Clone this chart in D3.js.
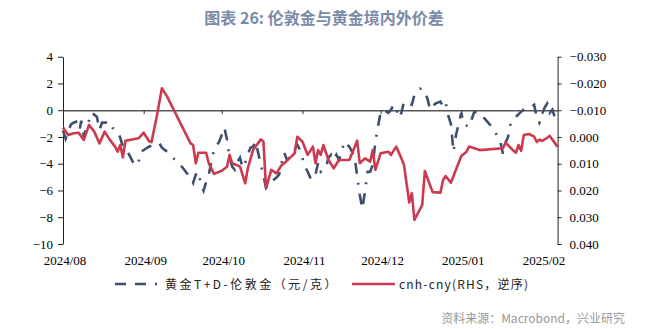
<!DOCTYPE html>
<html><head><meta charset="utf-8">
<script src="https://cdn.jsdelivr.net/npm/d3@7"></script>
<style>body{margin:0;background:#fff;} svg{display:block;}</style>
</head><body><svg id="c" width="656" height="329"></svg>
<script>
const titleText = "图表 26: 伦敦金与黄金境内外价差";
const sourceText = "资料来源：Macrobond，兴业研究";
const legendNames = ["黄金T+D-伦敦金（元/克）", "cnh-cny(RHS，逆序)"];
const leftTicks = [4, 2, 0, -2, -4, -6, -8, -10];
const rightTicks = [-0.03, -0.02, -0.01, 0, 0.01, 0.02, 0.03, 0.04];
const monthTicks = ["2024-08-01","2024-09-01","2024-10-01","2024-11-01","2024-12-01","2025-01-01","2025-02-01"];
const monthLabels = ["2024/08","2024/09","2024/10","2024/11","2024/12","2025/01","2025/02"];

const goldDates = ["2024-08-01","2024-08-02","2024-08-04","2024-08-05","2024-08-06","2024-08-07","2024-08-08","2024-08-09","2024-08-10","2024-08-12","2024-08-14","2024-08-15","2024-08-16","2024-08-17","2024-08-19","2024-08-20","2024-08-22","2024-08-23","2024-08-24","2024-08-26","2024-08-27","2024-08-28","2024-08-29","2024-08-30","2024-08-31",
"2024-09-03","2024-09-05","2024-09-07","2024-09-08","2024-09-10","2024-09-13","2024-09-16","2024-09-18","2024-09-19","2024-09-20","2024-09-21","2024-09-22","2024-09-23","2024-09-24","2024-09-25","2024-09-26","2024-09-27","2024-09-28","2024-09-30",
"2024-10-01","2024-10-02","2024-10-03","2024-10-04","2024-10-05","2024-10-06","2024-10-07","2024-10-08","2024-10-09","2024-10-10","2024-10-11","2024-10-12","2024-10-13","2024-10-14","2024-10-16","2024-10-18","2024-10-19","2024-10-20","2024-10-22","2024-10-23","2024-10-24","2024-10-25","2024-10-26","2024-10-27","2024-10-29","2024-10-30","2024-10-31",
"2024-11-02","2024-11-03","2024-11-04","2024-11-05","2024-11-06","2024-11-07","2024-11-08","2024-11-10","2024-11-11","2024-11-12","2024-11-13","2024-11-14","2024-11-15","2024-11-16","2024-11-17","2024-11-19","2024-11-20","2024-11-21","2024-11-22","2024-11-23","2024-11-24","2024-11-25","2024-11-26","2024-11-27","2024-11-28","2024-11-29","2024-11-30",
"2024-12-01","2024-12-02","2024-12-04","2024-12-05","2024-12-06","2024-12-07","2024-12-08","2024-12-09","2024-12-10","2024-12-13","2024-12-14","2024-12-16","2024-12-17","2024-12-18","2024-12-19","2024-12-20","2024-12-22","2024-12-24","2024-12-25","2024-12-26","2024-12-27","2024-12-28","2024-12-29","2024-12-30","2024-12-31",
"2025-01-01","2025-01-02","2025-01-04","2025-01-06","2025-01-08","2025-01-11","2025-01-13","2025-01-15","2025-01-16","2025-01-17","2025-01-18","2025-01-19","2025-01-20","2025-01-22","2025-01-24","2025-01-25","2025-01-28","2025-01-29","2025-01-30","2025-01-31",
"2025-02-01","2025-02-02","2025-02-03","2025-02-04","2025-02-05","2025-02-06"];
const goldValues = [-1.53,-2.13,-1.08,-0.93,-0.86,-1.91,-0.78,-1.98,-1.31,-0.19,-0.49,-1.46,-0.93,-0.93,-0.86,-1.31,-1.61,-2.06,-2.73,-3.18,-3.55,-3.92,-4.15,-3.85,-3.10,
-2.73,-2.58,-2.47,-2.80,-3.10,-3.70,-4.30,-4.82,-4.97,-5.42,-4.82,-4.60,-5.57,-6.02,-5.34,-4.82,-3.85,-2.95,-2.35,
-1.83,-1.31,-2.20,-3.55,-4.22,-4.45,-3.85,-3.55,-4.30,-3.92,-3.33,-2.80,-2.73,-2.35,-4.07,-5.79,-5.57,-5.34,-5.04,-4.82,-3.92,-3.18,-3.70,-3.55,-2.95,-2.58,-2.95,
-4.22,-4.60,-5.04,-5.19,-4.82,-3.92,-4.60,-4.30,-3.55,-3.33,-3.70,-3.33,-3.70,-3.18,-2.35,-2.73,-3.10,-3.48,-4.90,-6.32,-7.36,-6.09,-4.60,-4.60,-4.07,-2.35,-1.23,
-0.19,0.04,-0.19,0.04,0.41,0.19,-0.56,-0.19,0.64,0.41,1.16,1.61,1.61,1.38,0.86,0.04,0.49,0.64,0.26,0.56,-0.41,-1.01,-3.10,-1.83,-1.01,
-0.19,-1.08,-1.23,-0.11,-0.19,-0.86,-1.31,-1.98,-2.35,-3.25,-2.43,-1.98,-0.93,-0.49,-0.11,0.04,0.26,0.41,-0.56,-0.93,
-0.34,0.19,0.49,-0.19,0.04,-0.56];

const fxDates = ["2024-08-01","2024-08-03","2024-08-05","2024-08-07","2024-08-09","2024-08-11","2024-08-13","2024-08-15","2024-08-17","2024-08-19","2024-08-21","2024-08-22","2024-08-23","2024-08-24","2024-08-25","2024-08-30",
"2024-09-01","2024-09-03","2024-09-04","2024-09-06","2024-09-08","2024-09-10","2024-09-19","2024-09-20","2024-09-21","2024-09-22","2024-09-25","2024-09-26","2024-09-28",
"2024-10-01","2024-10-03","2024-10-04","2024-10-05","2024-10-08","2024-10-10","2024-10-11","2024-10-13","2024-10-16","2024-10-17","2024-10-18","2024-10-20","2024-10-22","2024-10-24","2024-10-25","2024-10-27","2024-10-29","2024-10-30",
"2024-11-01","2024-11-03","2024-11-05","2024-11-06","2024-11-07","2024-11-08","2024-11-09","2024-11-11","2024-11-13","2024-11-15","2024-11-19","2024-11-22","2024-11-23","2024-11-25","2024-11-27","2024-11-28","2024-11-29",
"2024-12-01","2024-12-04","2024-12-05","2024-12-07","2024-12-09","2024-12-10","2024-12-12","2024-12-13","2024-12-14","2024-12-17","2024-12-18","2024-12-21","2024-12-24","2024-12-25","2024-12-26","2024-12-28",
"2025-01-01","2025-01-03","2025-01-04","2025-01-08","2025-01-17","2025-01-18","2025-01-21","2025-01-22","2025-01-23","2025-01-24","2025-01-25","2025-01-27","2025-01-29","2025-01-30","2025-01-31",
"2025-02-01","2025-02-03","2025-02-04","2025-02-07"];
const fxValues = [-0.0035,-0.0007,-0.0014,-0.0016,0.0011,-0.0045,-0.0020,0.0024,-0.0020,0.0011,0.0036,0.0055,0.0030,0.0076,0.0014,0.0005,
-0.0016,0.0015,0.0019,-0.0076,-0.0182,-0.0151,0.0024,0.0030,0.0098,0.0059,0.0059,0.0098,0.0138,
0.0126,0.0111,0.0067,0.0098,0.0111,0.0173,0.0117,0.0049,0.0009,0.0018,0.0192,0.0123,0.0136,0.0105,0.0098,0.0080,0.0061,-0.0001,
0.0018,0.0067,0.0036,0.0098,0.0049,0.0067,0.0030,0.0086,0.0117,0.0086,0.0086,0.0014,0.0098,0.0080,0.0092,0.0049,0.0123,
0.0061,0.0055,0.0067,0.0036,0.0080,0.0105,0.0245,0.0210,0.0310,0.0254,0.0127,0.0206,0.0208,0.0161,0.0146,0.0171,
0.0071,0.0055,0.0036,0.0049,0.0042,0.0021,0.0051,0.0059,0.0030,0.0052,-0.0007,-0.0011,-0.0001,0.0019,0.0010,
0.0015,0.0003,-0.0004,0.0037];

const NAVY = "#3d5072", RED = "#cc3a4f";
const DASH = "11,9,11,9,2,9";
const parse = d3.timeParse("%Y-%m-%d");
const svg = d3.select("#c");
const L = 63, R = 557.6, T = 56.7, B = 244;

const x = d3.scaleTime().domain([parse("2024-08-01"), parse("2025-02-07")]).range([L, R]);
const yL = d3.scaleLinear().domain([-10, 4]).range([B, T]);
const yR = d3.scaleLinear().domain([-0.03, 0.04]).range([T, B]);

const numFont = "'Liberation Serif','Times New Roman',serif";
const cjkFont = "'Noto Sans CJK SC','Noto Sans',sans-serif";

svg.append("text").attr("x", 324).attr("y", 24).attr("text-anchor", "middle")
  .attr("font-family", cjkFont).attr("font-weight", "bold").attr("font-size", 16)
  .attr("fill", "#7a8ba8").text(titleText);

const gL = svg.append("g").attr("transform", `translate(${L},0)`)
  .call(d3.axisLeft(yL).tickValues(leftTicks).tickSize(5).tickSizeOuter(0).tickPadding(5).tickFormat(d3.format("d")));
const gR = svg.append("g").attr("transform", `translate(${R},0)`)
  .call(d3.axisRight(yR).tickValues(rightTicks).tickSize(4).tickSizeOuter(0).tickPadding(8).tickFormat(d3.format(".3f")));
[gL, gR].forEach(g => {
  g.selectAll("text").attr("font-family", numFont).attr("font-size", 13).attr("fill", "#000");
  g.selectAll("path,line").attr("stroke", "#222");
});

const y0 = yL(0);
const gX = svg.append("g").attr("transform", `translate(0,${y0})`)
  .call(d3.axisBottom(x).tickValues(monthTicks.map(parse)).tickSize(4).tickSizeOuter(0).tickFormat(""));
gX.selectAll("path").attr("stroke", "#555").attr("stroke-width", 1.4);
gX.selectAll("line").attr("stroke", "#333");

svg.append("g").selectAll("text").data(monthTicks).join("text")
  .attr("x", d => x(parse(d)) + 2).attr("y", 265).attr("text-anchor", "middle")
  .attr("font-family", numFont).attr("font-size", 13).attr("fill", "#000")
  .text((d, i) => monthLabels[i]);

const gold = goldDates.map((d, i) => ({ d: parse(d), v: goldValues[i] }));
const fx = fxDates.map((d, i) => ({ d: parse(d), v: fxValues[i] }));

svg.append("path").datum(gold)
  .attr("d", d3.line().x(p => x(p.d)).y(p => yL(p.v)))
  .attr("fill", "none").attr("stroke", NAVY).attr("stroke-width", 2.6)
  .attr("stroke-dasharray", DASH);

svg.append("path").datum(fx)
  .attr("d", d3.line().x(p => x(p.d)).y(p => yR(p.v)))
  .attr("fill", "none").attr("stroke", RED).attr("stroke-width", 2.6)
  .attr("stroke-linejoin", "round");

const lg = svg.append("g");
lg.append("line").attr("x1", 115).attr("x2", 160).attr("y1", 284).attr("y2", 284)
  .attr("stroke", NAVY).attr("stroke-width", 2.6).attr("stroke-dasharray", DASH);
lg.append("text").attr("x", 165).attr("y", 288.5).attr("font-family", cjkFont).attr("font-size", 12)
  .attr("letter-spacing", 2.5).attr("fill", "#222").text(legendNames[0]);
lg.append("line").attr("x1", 352).attr("x2", 395).attr("y1", 284).attr("y2", 284)
  .attr("stroke", RED).attr("stroke-width", 2.6);
lg.append("text").attr("x", 399).attr("y", 288.5).attr("font-family", cjkFont).attr("font-size", 12)
  .attr("letter-spacing", 1.2).attr("fill", "#222").text(legendNames[1]);

svg.append("text").attr("x", 625).attr("y", 323).attr("text-anchor", "end")
  .attr("font-family", cjkFont).attr("font-size", 12).attr("fill", "#999").text(sourceText);
</script></body></html>
